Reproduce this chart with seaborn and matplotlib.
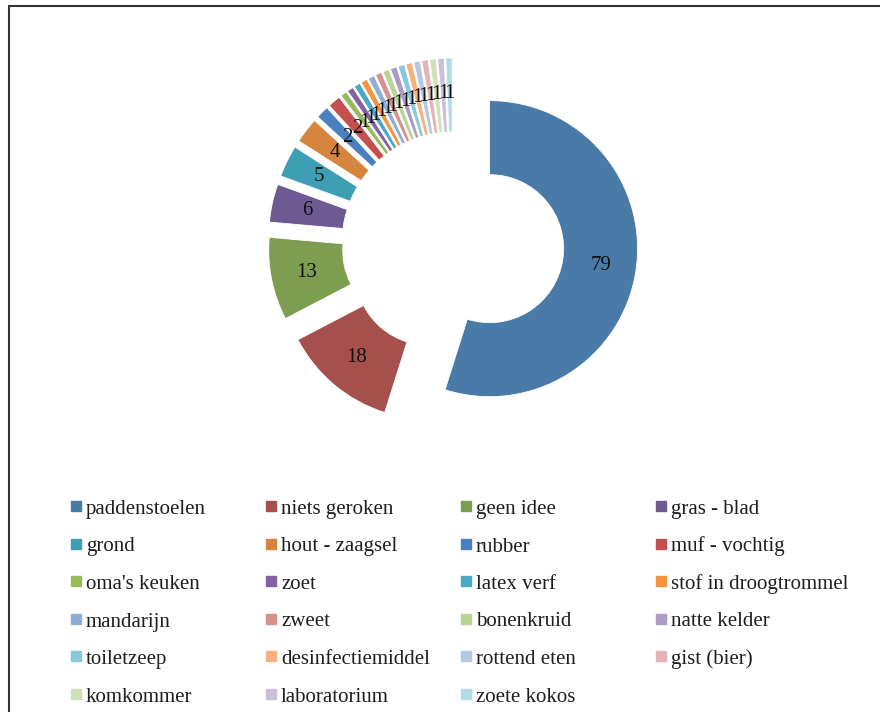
import matplotlib
matplotlib.use('Agg')
import matplotlib.pyplot as plt
from matplotlib.lines import Line2D
from matplotlib.patches import Rectangle
import seaborn as sns

# Data
labels = ['paddenstoelen', 'niets geroken', 'geen idee', 'gras - blad',
          'grond', 'hout - zaagsel', 'rubber', 'muf - vochtig',
          "oma's keuken", 'zoet', 'latex verf', 'stof in droogtrommel',
          'mandarijn', 'zweet', 'bonenkruid', 'natte kelder',
          'toiletzeep', 'desinfectiemiddel', 'rottend eten', 'gist (bier)',
          'komkommer', 'laboratorium', 'zoete kokos']
counts = [79, 18, 13, 6, 5, 4, 2, 2,
          1, 1, 1, 1, 1, 1, 1, 1, 1, 1, 1, 1, 1, 1, 1]
colors = ['#4a7aa8', '#a5504d', '#7d9e50', '#6e5a92', '#3e9fb4', '#d6853e',
          '#4a80c2', '#c4504d', '#96b95a', '#8064a2', '#47a9c3', '#f6933f',
          '#8eaed6', '#d6908e', '#bcd396', '#ab9bc5', '#85c9da', '#f9b07e',
          '#b4c8e1', '#e4b5b4', '#d0e1ba', '#cac0da', '#b2dbe6']

sns.set_theme(style='white')
plt.rcParams['font.family'] = ['Liberation Serif', 'DejaVu Serif']

W, H = 880, 712
fig = plt.figure(figsize=(W / 100, H / 100), dpi=100)
fig.patch.set_facecolor('white')

# pie centre at (453, 243) px, radius 148 px
ax = fig.add_axes([231 / W, 247 / H, 444 / W, 444 / H])
total = sum(counts)
wedges, texts, autotexts = ax.pie(
    counts, colors=colors, startangle=90, counterclock=False,
    explode=[0.25] * len(counts),
    autopct=lambda p: f'{round(p * total / 100)}', pctdistance=0.76,
    wedgeprops=dict(width=0.5, edgecolor='white', linewidth=0.6),
    textprops=dict(fontsize=15, color='#111111'))
ax.set_xlim(-1.5, 1.5)
ax.set_ylim(-1.5, 1.5)
ax.set_aspect('equal')
ax.axis('off')

# legend, 4 columns filled row by row
for i, (lab, col) in enumerate(zip(labels, colors)):
    row, c = divmod(i, 4)
    x0 = 71 + 195 * c
    yb = 514 + 37.5 * row
    fig.patches.append(Rectangle((x0 / W, 1 - (yb - 3) / H), 10 / W, 10 / H,
                                 transform=fig.transFigure, color=col))
    fig.text((x0 + 15) / W, 1 - yb / H, lab, va='baseline', ha='left',
             fontsize=15, color='#1e1e1e')

# frame lines (left and top)
fig.add_artist(Line2D([9 / W, 9 / W], [0, 1 - 6 / H], transform=fig.transFigure,
                      color='#333333', lw=1.5))
fig.add_artist(Line2D([9 / W, 1], [1 - 6 / H, 1 - 6 / H], transform=fig.transFigure,
                      color='#333333', lw=1.5))

fig.savefig('out.png', dpi=100)
